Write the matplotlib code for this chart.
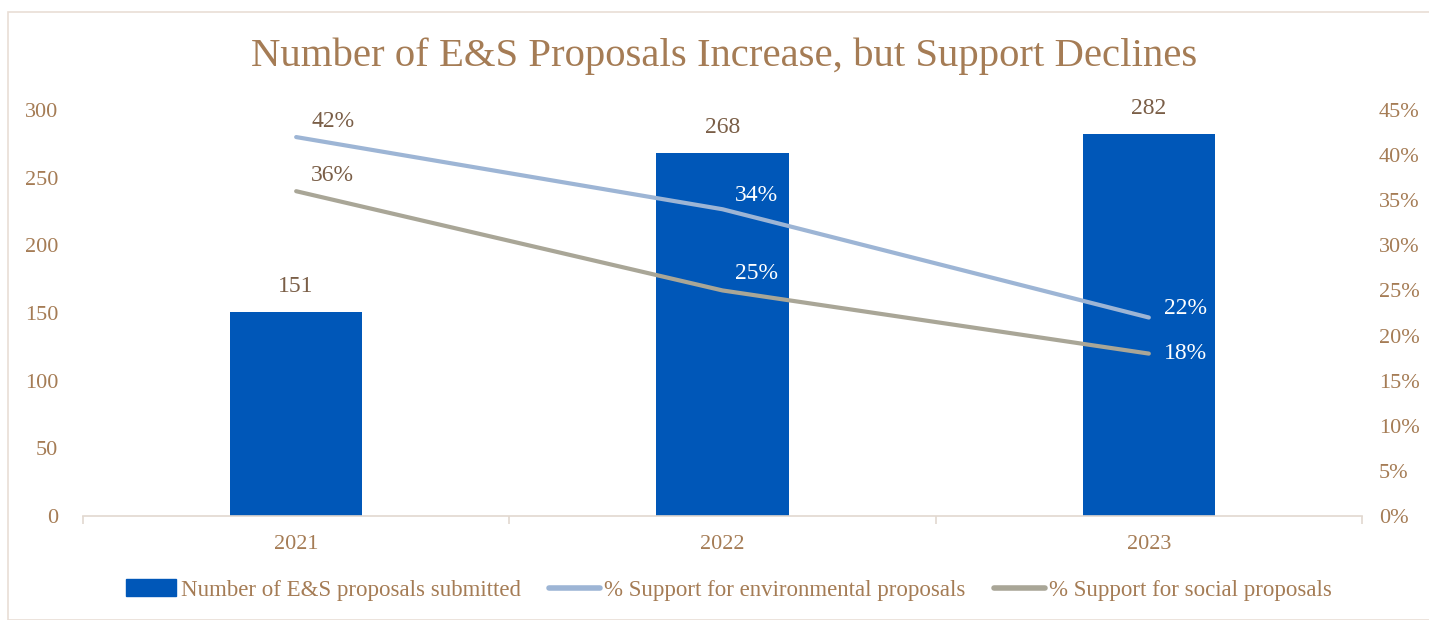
import numpy as np
import matplotlib.pyplot as plt
from matplotlib.patches import Rectangle
from matplotlib.lines import Line2D

years = ['2021', '2022', '2023']
proposals = [151, 268, 282]
env_support = [42, 34, 22]
soc_support = [36, 25, 18]

BROWN = '#A57C55'
DARK = '#7A5E47'
BAR = '#0057B8'
ENV = '#9DB5D5'
SOC = '#A9A697'

plt.rcParams['font.family'] = ['Liberation Serif', 'DejaVu Serif']

fig = plt.figure(figsize=(14.29, 6.2), dpi=100)
ax = fig.add_axes([83/1429, 1-516/620, (1362-83)/1429, (516-110)/620])
ax2 = ax.twinx()

# outer frame
fig.patches.append(Rectangle((8/1429, 0), 1.0, 1-12/620, transform=fig.transFigure,
                             fill=False, edgecolor='#E9DED6', linewidth=1.2))

x = np.arange(len(years))
ax.bar(x, proposals, width=0.31, color=BAR, zorder=2)
for xi, v in zip(x, proposals):
    ax.text(xi, v + 11, str(v), ha='center', va='bottom', fontsize=17, color=DARK)

ax.set_xlim(-0.5, 2.5)
ax.set_ylim(0, 300)
ax.set_yticks(np.arange(0, 301, 50))
ax.set_xticks(x)
ax.set_xticklabels(years)
ax.set_xticks([-0.5, 0.5, 1.5, 2.5], minor=True)
ax.tick_params(axis='x', which='major', length=0, pad=14, labelsize=16, labelcolor=BROWN)
ax.tick_params(axis='x', which='minor', length=6, color='#E2D8CF', width=1.2)
ax.tick_params(axis='y', length=0, pad=18, labelsize=16, labelcolor=BROWN)
for s in ['top', 'right', 'left']:
    ax.spines[s].set_visible(False)
ax.spines['bottom'].set_color('#E2D8CF')
ax.spines['bottom'].set_linewidth(1.2)

ax2.plot(x, env_support, color=ENV, lw=3.0, solid_capstyle='round', zorder=3)
ax2.plot(x, soc_support, color=SOC, lw=3.0, solid_capstyle='round', zorder=3)
ax2.set_ylim(0, 45)
ax2.set_yticks(np.arange(0, 46, 5))
ax2.set_yticklabels([f'{v}%' for v in range(0, 46, 5)])
ax2.tick_params(axis='y', length=0, pad=12, labelsize=16, labelcolor=BROWN)
for s in ax2.spines.values():
    s.set_visible(False)

# percentage labels
ax2.text(x[0] + 0.035, env_support[0] + 0.6, f'{env_support[0]}%', ha='left', va='bottom', fontsize=17, color=DARK)
ax2.text(x[0] + 0.035, soc_support[0] + 0.6, f'{soc_support[0]}%', ha='left', va='bottom', fontsize=17, color=DARK)
ax2.text(x[1] + 0.03, env_support[1] + 0.4, f'{env_support[1]}%', ha='left', va='bottom', fontsize=17, color='white')
ax2.text(x[1] + 0.03, soc_support[1] + 0.7, f'{soc_support[1]}%', ha='left', va='bottom', fontsize=17, color='white')
ax2.text(x[2] + 0.035, env_support[2] + 1.0, f'{env_support[2]}%', ha='left', va='center', fontsize=17, color='white')
ax2.text(x[2] + 0.035, soc_support[2], f'{soc_support[2]}%', ha='left', va='center', fontsize=17, color='white')

fig.text(724/1429, 1-56/620, 'Number of E&S Proposals Increase, but Support Declines',
         ha='center', va='center', fontsize=29.3, color=BROWN)

handles = [Rectangle((0, 0), 1, 1, color=BAR),
           Line2D([], [], color=ENV, lw=4, solid_capstyle='round'),
           Line2D([], [], color=SOC, lw=4, solid_capstyle='round')]
labels = ['Number of E&S proposals submitted',
          '% Support for environmental proposals',
          '% Support for social proposals']
leg = fig.legend(handles, labels, loc='center', bbox_to_anchor=(729/1429, 1-590/620), ncol=3,
                 frameon=False, fontsize=16.5, handlelength=2.2, handletextpad=0.2,
                 columnspacing=1.25, handleheight=0.7)
for t in leg.get_texts():
    t.set_color(BROWN)

fig.savefig('out.png', dpi=100, facecolor='white')
